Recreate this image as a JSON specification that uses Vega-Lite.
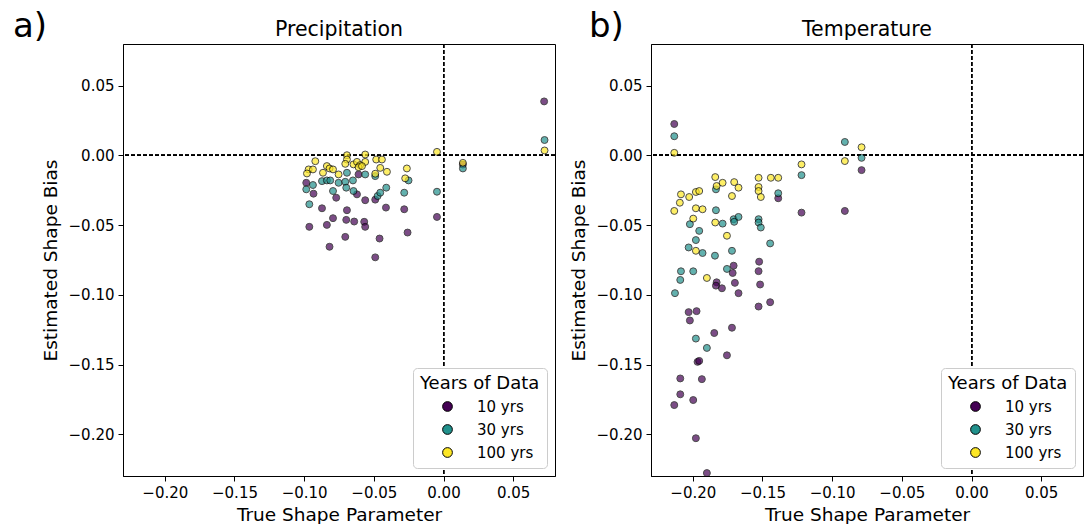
{
  "$schema": "https://vega.github.io/schema/vega-lite/v6.json",
  "background": "white",
  "padding": {"left": 12, "top": 9, "right": 0, "bottom": 0},
  "bounds": "flush",
  "spacing": 96,
  "config": {
    "font": "DejaVu Sans",
    "view": {"stroke": "black", "strokeWidth": 1},
    "axis": {"labelFont": "DejaVu Sans", "labelFontSize": 15, "labelColor": "black", "titleFont": "DejaVu Sans", "titleFontSize": 18.5, "titleFontWeight": "normal", "titleColor": "black", "tickColor": "black", "tickSize": 5, "tickWidth": 1, "domainColor": "black", "domainWidth": 1, "grid": false, "labelPadding": 4},
    "axisX": {"titlePadding": 5},
    "axisY": {"titlePadding": 8},
    "legend": {"orient": "bottom-right", "offset": 8, "titleFont": "DejaVu Sans", "titleFontSize": 18, "titleFontWeight": "normal", "titleColor": "black", "labelFont": "DejaVu Sans", "labelFontSize": 15, "labelColor": "black", "strokeColor": "#cccccc", "fillColor": "white", "cornerRadius": 4, "padding": 7, "symbolType": "circle", "symbolSize": 95, "symbolStrokeColor": "black", "symbolStrokeWidth": 1, "symbolOpacity": 1, "symbolOffset": 20, "labelOffset": 22, "rowPadding": 7, "titlePadding": 6}
  },
  "datasets": {
    "precip": [
      {"x": -0.0985, "y": -0.0196, "yrs": "10 yrs"},
      {"x": -0.0933, "y": -0.0274, "yrs": "10 yrs"},
      {"x": -0.0872, "y": -0.0379, "yrs": "10 yrs"},
      {"x": -0.0963, "y": -0.0512, "yrs": "10 yrs"},
      {"x": -0.0837, "y": -0.0498, "yrs": "10 yrs"},
      {"x": -0.0793, "y": -0.045, "yrs": "10 yrs"},
      {"x": -0.0818, "y": -0.0655, "yrs": "10 yrs"},
      {"x": -0.077, "y": -0.0303, "yrs": "10 yrs"},
      {"x": -0.0693, "y": -0.0393, "yrs": "10 yrs"},
      {"x": -0.0698, "y": -0.0462, "yrs": "10 yrs"},
      {"x": -0.0641, "y": -0.0474, "yrs": "10 yrs"},
      {"x": -0.0705, "y": -0.0584, "yrs": "10 yrs"},
      {"x": -0.0569, "y": -0.0476, "yrs": "10 yrs"},
      {"x": -0.0562, "y": -0.0512, "yrs": "10 yrs"},
      {"x": -0.0562, "y": -0.0321, "yrs": "10 yrs"},
      {"x": -0.0621, "y": -0.0279, "yrs": "10 yrs"},
      {"x": -0.049, "y": -0.0317, "yrs": "10 yrs"},
      {"x": -0.0459, "y": -0.0596, "yrs": "10 yrs"},
      {"x": -0.0413, "y": -0.0374, "yrs": "10 yrs"},
      {"x": -0.0282, "y": -0.0386, "yrs": "10 yrs"},
      {"x": -0.0258, "y": -0.0553, "yrs": "10 yrs"},
      {"x": -0.049, "y": -0.0731, "yrs": "10 yrs"},
      {"x": -0.0047, "y": -0.0441, "yrs": "10 yrs"},
      {"x": -0.061, "y": -0.0136, "yrs": "10 yrs"},
      {"x": 0.0139, "y": -0.0065, "yrs": "10 yrs"},
      {"x": 0.0722, "y": 0.0388, "yrs": "10 yrs"},
      {"x": -0.0985, "y": -0.0243, "yrs": "30 yrs"},
      {"x": -0.0937, "y": -0.0212, "yrs": "30 yrs"},
      {"x": -0.0872, "y": -0.0184, "yrs": "30 yrs"},
      {"x": -0.0837, "y": -0.0179, "yrs": "30 yrs"},
      {"x": -0.0813, "y": -0.0179, "yrs": "30 yrs"},
      {"x": -0.0793, "y": -0.0255, "yrs": "30 yrs"},
      {"x": -0.0753, "y": -0.0196, "yrs": "30 yrs"},
      {"x": -0.0705, "y": -0.0189, "yrs": "30 yrs"},
      {"x": -0.0693, "y": -0.0124, "yrs": "30 yrs"},
      {"x": -0.0698, "y": -0.0231, "yrs": "30 yrs"},
      {"x": -0.065, "y": -0.0179, "yrs": "30 yrs"},
      {"x": -0.0646, "y": -0.0255, "yrs": "30 yrs"},
      {"x": -0.0562, "y": -0.0136, "yrs": "30 yrs"},
      {"x": -0.049, "y": -0.0148, "yrs": "30 yrs"},
      {"x": -0.0473, "y": -0.0291, "yrs": "30 yrs"},
      {"x": -0.0454, "y": -0.0267, "yrs": "30 yrs"},
      {"x": -0.0411, "y": -0.0231, "yrs": "30 yrs"},
      {"x": -0.0282, "y": -0.0267, "yrs": "30 yrs"},
      {"x": -0.0251, "y": -0.0179, "yrs": "30 yrs"},
      {"x": -0.0047, "y": -0.026, "yrs": "30 yrs"},
      {"x": -0.0963, "y": -0.035, "yrs": "30 yrs"},
      {"x": 0.0139, "y": -0.0093, "yrs": "30 yrs"},
      {"x": 0.0725, "y": 0.0111, "yrs": "30 yrs"},
      {"x": -0.092, "y": -0.0041, "yrs": "100 yrs"},
      {"x": -0.0968, "y": -0.01, "yrs": "100 yrs"},
      {"x": -0.0937, "y": -0.01, "yrs": "100 yrs"},
      {"x": -0.098, "y": -0.0129, "yrs": "100 yrs"},
      {"x": -0.0837, "y": -0.0076, "yrs": "100 yrs"},
      {"x": -0.0818, "y": -0.0093, "yrs": "100 yrs"},
      {"x": -0.0793, "y": -0.01, "yrs": "100 yrs"},
      {"x": -0.0865, "y": -0.0124, "yrs": "100 yrs"},
      {"x": -0.0753, "y": -0.0136, "yrs": "100 yrs"},
      {"x": -0.0693, "y": 0.0002, "yrs": "100 yrs"},
      {"x": -0.0693, "y": -0.0029, "yrs": "100 yrs"},
      {"x": -0.0705, "y": -0.006, "yrs": "100 yrs"},
      {"x": -0.0646, "y": -0.0064, "yrs": "100 yrs"},
      {"x": -0.0621, "y": -0.0046, "yrs": "100 yrs"},
      {"x": -0.0598, "y": -0.0069, "yrs": "100 yrs"},
      {"x": -0.061, "y": -0.0084, "yrs": "100 yrs"},
      {"x": -0.0562, "y": 0.0007, "yrs": "100 yrs"},
      {"x": -0.0562, "y": -0.0046, "yrs": "100 yrs"},
      {"x": -0.0585, "y": -0.0076, "yrs": "100 yrs"},
      {"x": -0.0483, "y": -0.0029, "yrs": "100 yrs"},
      {"x": -0.0442, "y": -0.0029, "yrs": "100 yrs"},
      {"x": -0.0454, "y": -0.0089, "yrs": "100 yrs"},
      {"x": -0.049, "y": -0.0131, "yrs": "100 yrs"},
      {"x": -0.0406, "y": -0.0117, "yrs": "100 yrs"},
      {"x": -0.0263, "y": -0.0093, "yrs": "100 yrs"},
      {"x": -0.0275, "y": -0.0164, "yrs": "100 yrs"},
      {"x": -0.0047, "y": 0.0026, "yrs": "100 yrs"},
      {"x": 0.0139, "y": -0.0053, "yrs": "100 yrs"},
      {"x": 0.0725, "y": 0.0036, "yrs": "100 yrs"}
    ],
    "temp": [
      {"x": -0.2133, "y": 0.0226, "yrs": "10 yrs"},
      {"x": -0.1387, "y": -0.0307, "yrs": "10 yrs"},
      {"x": -0.122, "y": -0.041, "yrs": "10 yrs"},
      {"x": -0.0909, "y": -0.0398, "yrs": "10 yrs"},
      {"x": -0.0789, "y": -0.0105, "yrs": "10 yrs"},
      {"x": -0.1524, "y": -0.0762, "yrs": "10 yrs"},
      {"x": -0.1528, "y": -0.083, "yrs": "10 yrs"},
      {"x": -0.1707, "y": -0.0791, "yrs": "10 yrs"},
      {"x": -0.1714, "y": -0.0843, "yrs": "10 yrs"},
      {"x": -0.1829, "y": -0.091, "yrs": "10 yrs"},
      {"x": -0.1834, "y": -0.0934, "yrs": "10 yrs"},
      {"x": -0.1791, "y": -0.0953, "yrs": "10 yrs"},
      {"x": -0.1698, "y": -0.0914, "yrs": "10 yrs"},
      {"x": -0.1672, "y": -0.0988, "yrs": "10 yrs"},
      {"x": -0.1517, "y": -0.0926, "yrs": "10 yrs"},
      {"x": -0.1528, "y": -0.1084, "yrs": "10 yrs"},
      {"x": -0.1445, "y": -0.1053, "yrs": "10 yrs"},
      {"x": -0.203, "y": -0.1124, "yrs": "10 yrs"},
      {"x": -0.1973, "y": -0.1117, "yrs": "10 yrs"},
      {"x": -0.2021, "y": -0.1184, "yrs": "10 yrs"},
      {"x": -0.1846, "y": -0.1274, "yrs": "10 yrs"},
      {"x": -0.1719, "y": -0.1236, "yrs": "10 yrs"},
      {"x": -0.1755, "y": -0.1434, "yrs": "10 yrs"},
      {"x": -0.1966, "y": -0.1481, "yrs": "10 yrs"},
      {"x": -0.1954, "y": -0.1474, "yrs": "10 yrs"},
      {"x": -0.209, "y": -0.16, "yrs": "10 yrs"},
      {"x": -0.1935, "y": -0.1605, "yrs": "10 yrs"},
      {"x": -0.209, "y": -0.1714, "yrs": "10 yrs"},
      {"x": -0.2133, "y": -0.1791, "yrs": "10 yrs"},
      {"x": -0.1997, "y": -0.1755, "yrs": "10 yrs"},
      {"x": -0.1978, "y": -0.2029, "yrs": "10 yrs"},
      {"x": -0.1899, "y": -0.2279, "yrs": "10 yrs"},
      {"x": -0.2133, "y": 0.0138, "yrs": "30 yrs"},
      {"x": -0.1834, "y": -0.0243, "yrs": "30 yrs"},
      {"x": -0.1834, "y": -0.0393, "yrs": "30 yrs"},
      {"x": -0.1786, "y": -0.0489, "yrs": "30 yrs"},
      {"x": -0.2021, "y": -0.0493, "yrs": "30 yrs"},
      {"x": -0.1954, "y": -0.0541, "yrs": "30 yrs"},
      {"x": -0.1978, "y": -0.0607, "yrs": "30 yrs"},
      {"x": -0.1707, "y": -0.0457, "yrs": "30 yrs"},
      {"x": -0.1672, "y": -0.0441, "yrs": "30 yrs"},
      {"x": -0.1703, "y": -0.0476, "yrs": "30 yrs"},
      {"x": -0.1528, "y": -0.0457, "yrs": "30 yrs"},
      {"x": -0.1528, "y": -0.0481, "yrs": "30 yrs"},
      {"x": -0.1512, "y": -0.0517, "yrs": "30 yrs"},
      {"x": -0.122, "y": -0.0141, "yrs": "30 yrs"},
      {"x": -0.0909, "y": 0.0097, "yrs": "30 yrs"},
      {"x": -0.0789, "y": -0.0017, "yrs": "30 yrs"},
      {"x": -0.1387, "y": -0.0271, "yrs": "30 yrs"},
      {"x": -0.1445, "y": -0.0631, "yrs": "30 yrs"},
      {"x": -0.203, "y": -0.066, "yrs": "30 yrs"},
      {"x": -0.193, "y": -0.07, "yrs": "30 yrs"},
      {"x": -0.1841, "y": -0.0719, "yrs": "30 yrs"},
      {"x": -0.1719, "y": -0.0684, "yrs": "30 yrs"},
      {"x": -0.2085, "y": -0.0831, "yrs": "30 yrs"},
      {"x": -0.209, "y": -0.0893, "yrs": "30 yrs"},
      {"x": -0.1997, "y": -0.0831, "yrs": "30 yrs"},
      {"x": -0.2128, "y": -0.0988, "yrs": "30 yrs"},
      {"x": -0.1755, "y": -0.0814, "yrs": "30 yrs"},
      {"x": -0.1978, "y": -0.1314, "yrs": "30 yrs"},
      {"x": -0.1899, "y": -0.1381, "yrs": "30 yrs"},
      {"x": -0.2133, "y": 0.0019, "yrs": "100 yrs"},
      {"x": -0.2085, "y": -0.0279, "yrs": "100 yrs"},
      {"x": -0.2093, "y": -0.0339, "yrs": "100 yrs"},
      {"x": -0.2133, "y": -0.0398, "yrs": "100 yrs"},
      {"x": -0.2026, "y": -0.0298, "yrs": "100 yrs"},
      {"x": -0.1978, "y": -0.0262, "yrs": "100 yrs"},
      {"x": -0.1954, "y": -0.0255, "yrs": "100 yrs"},
      {"x": -0.1978, "y": -0.0379, "yrs": "100 yrs"},
      {"x": -0.193, "y": -0.0386, "yrs": "100 yrs"},
      {"x": -0.1997, "y": -0.0453, "yrs": "100 yrs"},
      {"x": -0.1839, "y": -0.0155, "yrs": "100 yrs"},
      {"x": -0.1829, "y": -0.0219, "yrs": "100 yrs"},
      {"x": -0.1786, "y": -0.0196, "yrs": "100 yrs"},
      {"x": -0.1703, "y": -0.0191, "yrs": "100 yrs"},
      {"x": -0.1672, "y": -0.0231, "yrs": "100 yrs"},
      {"x": -0.1719, "y": -0.0291, "yrs": "100 yrs"},
      {"x": -0.1839, "y": -0.0481, "yrs": "100 yrs"},
      {"x": -0.1755, "y": -0.0576, "yrs": "100 yrs"},
      {"x": -0.1528, "y": -0.016, "yrs": "100 yrs"},
      {"x": -0.1528, "y": -0.0226, "yrs": "100 yrs"},
      {"x": -0.1528, "y": -0.0255, "yrs": "100 yrs"},
      {"x": -0.1512, "y": -0.0298, "yrs": "100 yrs"},
      {"x": -0.122, "y": -0.0064, "yrs": "100 yrs"},
      {"x": -0.0909, "y": -0.004, "yrs": "100 yrs"},
      {"x": -0.0789, "y": 0.0059, "yrs": "100 yrs"},
      {"x": -0.144, "y": -0.016, "yrs": "100 yrs"},
      {"x": -0.1387, "y": -0.016, "yrs": "100 yrs"},
      {"x": -0.1978, "y": -0.0684, "yrs": "100 yrs"},
      {"x": -0.1899, "y": -0.0879, "yrs": "100 yrs"}
    ]
  },
  "resolve": {"scale": {"color": "independent"}},
  "hconcat": [
    {
      "width": 432,
      "height": 432,
      "data": {"name": "precip"},
      "layer": [
        {"mark": {"type": "rule", "color": "black", "strokeWidth": 1, "strokeDash": [4, 2]}, "encoding": {"x": {"datum": 0, "type": "quantitative", "scale": {"domain": [-0.23, 0.08], "nice": false, "zero": false}}}},
        {"mark": {"type": "rule", "color": "black", "strokeWidth": 1, "strokeDash": [4, 2]}, "encoding": {"y": {"datum": 0, "type": "quantitative", "scale": {"domain": [-0.23, 0.08], "nice": false, "zero": false}}}},
        {
          "mark": {"type": "point", "filled": true, "size": 48, "opacity": 0.7, "stroke": "black", "strokeWidth": 1},
          "encoding": {
            "x": {"field": "x", "type": "quantitative", "title": "True Shape Parameter", "scale": {"domain": [-0.23, 0.08], "nice": false, "zero": false}, "axis": {"values": [-0.2, -0.15, -0.1, -0.05, 0, 0.05], "format": ".2f"}},
            "y": {"field": "y", "type": "quantitative", "title": "Estimated Shape Bias", "scale": {"domain": [-0.23, 0.08], "nice": false, "zero": false}, "axis": {"values": [-0.2, -0.15, -0.1, -0.05, 0, 0.05], "format": ".2f"}},
            "color": {"field": "yrs", "type": "nominal", "title": "Years of Data", "sort": ["10 yrs", "30 yrs", "100 yrs"], "scale": {"domain": ["10 yrs", "30 yrs", "100 yrs"], "range": ["#440154", "#21918c", "#fde725"]}}
          }
        },
        {
          "data": {"values": [{}]},
          "mark": {"type": "text", "font": "DejaVu Sans", "fontSize": 20.5, "align": "center", "baseline": "alphabetic", "color": "black", "clip": false},
          "encoding": {"x": {"datum": -0.075, "type": "quantitative"}, "y": {"datum": 0.0855, "type": "quantitative"}, "text": {"value": "Precipitation"}}
        },
        {
          "data": {"values": [{}]},
          "mark": {"type": "text", "font": "DejaVu Sans", "fontSize": 34, "align": "left", "baseline": "alphabetic", "color": "black", "clip": false},
          "encoding": {"x": {"datum": -0.309, "type": "quantitative"}, "y": {"datum": 0.085, "type": "quantitative"}, "text": {"value": "a)"}}
        }
      ]
    },
    {
      "width": 432,
      "height": 432,
      "data": {"name": "temp"},
      "layer": [
        {"mark": {"type": "rule", "color": "black", "strokeWidth": 1, "strokeDash": [4, 2]}, "encoding": {"x": {"datum": 0, "type": "quantitative", "scale": {"domain": [-0.23, 0.08], "nice": false, "zero": false}}}},
        {"mark": {"type": "rule", "color": "black", "strokeWidth": 1, "strokeDash": [4, 2]}, "encoding": {"y": {"datum": 0, "type": "quantitative", "scale": {"domain": [-0.23, 0.08], "nice": false, "zero": false}}}},
        {
          "mark": {"type": "point", "filled": true, "size": 48, "opacity": 0.7, "stroke": "black", "strokeWidth": 1},
          "encoding": {
            "x": {"field": "x", "type": "quantitative", "title": "True Shape Parameter", "scale": {"domain": [-0.23, 0.08], "nice": false, "zero": false}, "axis": {"values": [-0.2, -0.15, -0.1, -0.05, 0, 0.05], "format": ".2f"}},
            "y": {"field": "y", "type": "quantitative", "title": "Estimated Shape Bias", "scale": {"domain": [-0.23, 0.08], "nice": false, "zero": false}, "axis": {"values": [-0.2, -0.15, -0.1, -0.05, 0, 0.05], "format": ".2f"}},
            "color": {"field": "yrs", "type": "nominal", "title": "Years of Data", "sort": ["10 yrs", "30 yrs", "100 yrs"], "scale": {"domain": ["10 yrs", "30 yrs", "100 yrs"], "range": ["#440154", "#21918c", "#fde725"]}}
          }
        },
        {
          "data": {"values": [{}]},
          "mark": {"type": "text", "font": "DejaVu Sans", "fontSize": 20.5, "align": "center", "baseline": "alphabetic", "color": "black", "clip": false},
          "encoding": {"x": {"datum": -0.075, "type": "quantitative"}, "y": {"datum": 0.0855, "type": "quantitative"}, "text": {"value": "Temperature"}}
        },
        {
          "data": {"values": [{}]},
          "mark": {"type": "text", "font": "DejaVu Sans", "fontSize": 34, "align": "left", "baseline": "alphabetic", "color": "black", "clip": false},
          "encoding": {"x": {"datum": -0.2745, "type": "quantitative"}, "y": {"datum": 0.085, "type": "quantitative"}, "text": {"value": "b)"}}
        }
      ]
    }
  ]
}
